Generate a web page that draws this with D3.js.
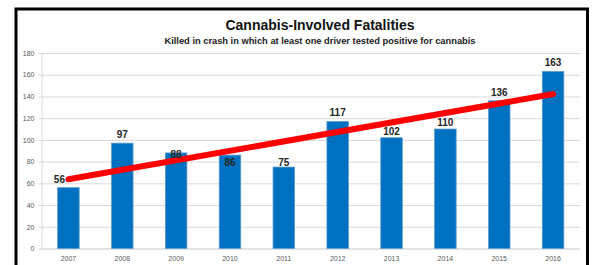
<!DOCTYPE html>
<html>
<head>
<meta charset="utf-8">
<script src="https://cdn.jsdelivr.net/npm/d3@7"></script>
<style>
  body { margin: 0; background: #fff; }
  text { font-family: Arial, "Liberation Sans", sans-serif; }
</style>
</head>
<body>
<div id="chart"></div>
<script>
// data
const years = ["2007", "2008", "2009", "2010", "2011", "2012", "2013", "2014", "2015", "2016"];
const fatalities = [56, 97, 88, 86, 75, 117, 102, 110, 136, 163];
const trendEnds = [63.8, 142.2];   // red trend line, value at 2007 and at 2016
const yTicks = [0, 20, 40, 60, 80, 100, 120, 140, 160, 180];

const title = "Cannabis-Involved Fatalities";
const subtitle = "Killed in crash in which at least one driver tested positive for cannabis";

// label nudges where the original moved them off the default spot
const labelNudge = {
  "2007": {dx: -9, dy: 0},
  "2009": {dx: 0, dy: 10},
  "2010": {dx: 0, dy: 15.5},
  "2011": {dx: 0, dy: 3.5},
  "2013": {dx: 0, dy: 2.5},
  "2014": {dx: 0, dy: 1.5}
};

const W = 592, H = 265;
const plot = {left: 41.5, right: 580, top: 53, bottom: 248.5};

const svg = d3.select("#chart")
    .append("svg")
    .attr("width", W)
    .attr("height", H);

// frame
svg.append("rect")
    .attr("x", 16)
    .attr("y", 9)
    .attr("width", 571.5)
    .attr("height", 280)
    .attr("fill", "none")
    .attr("stroke", "#000")
    .attr("stroke-width", 3);

// titles
svg.append("text")
    .attr("x", 320)
    .attr("y", 30)
    .attr("text-anchor", "middle")
    .attr("font-size", "14px")
    .attr("font-weight", "bold")
    .attr("fill", "#111")
    .text(title);

svg.append("text")
    .attr("x", 320)
    .attr("y", 43.5)
    .attr("text-anchor", "middle")
    .attr("font-size", "9.3px")
    .attr("font-weight", "bold")
    .attr("fill", "#222")
    .text(subtitle);

// scales
const x = d3.scaleBand()
    .domain(years)
    .range([plot.left, plot.right])
    .paddingInner(0.6)
    .paddingOuter(0.3);

const y = d3.scaleLinear()
    .domain([0, 180])
    .range([plot.bottom, plot.top]);

// grid + y axis
const yAxis = svg.append("g")
    .attr("transform", "translate(" + plot.left + ",0)")
    .call(d3.axisLeft(y)
        .tickValues(yTicks)
        .tickSize(-(plot.right - plot.left))
        .tickSizeOuter(0)
        .tickPadding(7));
yAxis.select(".domain").attr("stroke", "#d9d9d9");
yAxis.selectAll(".tick line")
    .attr("stroke", "#d9d9d9")
    .attr("x1", -3);
yAxis.selectAll(".tick text")
    .attr("font-size", "7px")
    .attr("font-family", "Arial, 'Liberation Sans', sans-serif")
    .attr("fill", "#595959");

// x axis
const xAxis = svg.append("g")
    .attr("transform", "translate(0," + plot.bottom + ")")
    .call(d3.axisBottom(x).tickSize(0).tickPadding(8));
xAxis.select(".domain").attr("stroke", "#d9d9d9");
xAxis.selectAll(".tick text")
    .attr("font-size", "7px")
    .attr("font-family", "Arial, 'Liberation Sans', sans-serif")
    .attr("fill", "#595959");

// bars
svg.selectAll("rect.bar")
    .data(fatalities)
    .enter()
    .append("rect")
    .attr("class", "bar")
    .attr("x", function(d, i) { return x(years[i]); })
    .attr("y", function(d) { return y(d); })
    .attr("width", x.bandwidth())
    .attr("height", function(d) { return y(0) - y(d); })
    .attr("fill", "#0070c0")
    .attr("stroke", "#5b9bd5")
    .attr("stroke-width", 0.8);

// trend line
svg.append("line")
    .attr("x1", x(years[0]) + x.bandwidth() / 2)
    .attr("y1", y(trendEnds[0]))
    .attr("x2", x(years[years.length - 1]) + x.bandwidth() / 2)
    .attr("y2", y(trendEnds[1]))
    .attr("stroke", "#ff0000")
    .attr("stroke-width", 6)
    .attr("stroke-linecap", "round");

// value labels
svg.selectAll("text.val")
    .data(fatalities)
    .enter()
    .append("text")
    .attr("class", "val")
    .attr("x", function(d, i) {
      const n = labelNudge[years[i]];
      return x(years[i]) + x.bandwidth() / 2 + (n ? n.dx : 0);
    })
    .attr("y", function(d, i) {
      const n = labelNudge[years[i]];
      return y(d) - 5 + (n ? n.dy : 0);
    })
    .attr("text-anchor", "middle")
    .attr("font-size", "10px")
    .attr("font-weight", "bold")
    .attr("fill", "#262626")
    .text(function(d) { return d; });
</script>
</body>
</html>
